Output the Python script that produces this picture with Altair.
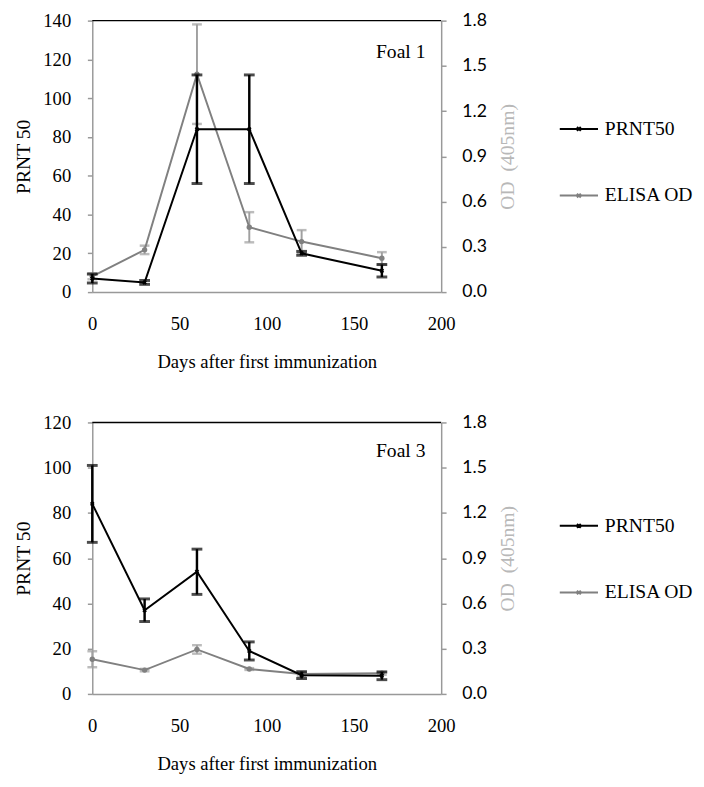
import altair as alt
import pandas as pd

# ---------------- data ----------------
days = [0, 30, 60, 90, 120, 166]
foal_names = ["Foal 1", "Foal 3"]
series_names = ["PRNT50", "ELISA OD"]

prnt_f1 = [7, 5, 84, 84, 20, 11]
prnt_err_f1 = [2.3, 1, 28, 28, 1, 3.2]
od_f1 = [0.105, 0.28, 1.445, 0.43, 0.335, 0.225]
od_err_f1 = [0.02, 0.028, 0.33, 0.10, 0.076, 0.04]

prnt_f3 = [84, 37, 54, 19, 8.3, 8]
prnt_err_f3 = [17, 5, 10, 4, 1.5, 1.7]
od_f3 = [0.23, 0.158, 0.295, 0.165, 0.132, 0.137]
od_err_f3 = [0.053, 0.008, 0.028, 0.006, 0.015, 0.01]

prnt_max = [140, 120]
prnt_ticks_f1 = [0, 20, 40, 60, 80, 100, 120, 140]
prnt_ticks_f3 = [0, 20, 40, 60, 80, 100, 120]
od_ticks = [0.0, 0.3, 0.6, 0.9, 1.2, 1.5, 1.8]
x_ticks = [0, 50, 100, 150, 200]

# ---------------- style ----------------
W, H = 356, 277
SERIF = "Liberation Serif"
SANS = "Lato"
BLACK = "#000000"
GRAY_LINE = "#808080"
GRAY_ERR = "#a0a0a0"
AXIS_GRAY = "#999999"

LEGEND_PATH = "M-1,0L1,0M-0.1,-0.1L0.1,0.1M-0.1,0.1L0.1,-0.1"


def make_panel(name, prnt, perr, od, oerr, ymax, yticks, legend_y, label_y):
    dp = pd.DataFrame({
        "day": days,
        "v": prnt,
        "lo": [a - b for a, b in zip(prnt, perr)],
        "hi": [a + b for a, b in zip(prnt, perr)],
        "series": series_names[0],
    })
    do = pd.DataFrame({
        "day": days,
        "v": od,
        "lo": [a - b for a, b in zip(od, oerr)],
        "hi": [a + b for a, b in zip(od, oerr)],
        "series": series_names[1],
    })
    dl = pd.DataFrame({"label": [name]})

    x_enc = alt.X(
        "day:Q",
        scale=alt.Scale(domain=[0, 200], nice=False),
        axis=alt.Axis(
            values=x_ticks, title="Days after first immunization",
            ticks=False, labelPadding=23, titlePadding=20, labelFlush=False,
            labelFont=SERIF, labelFontSize=19, labelColor=BLACK,
            titleFont=SERIF, titleFontSize=19, titleFontWeight="normal", titleColor=BLACK,
            domainColor=AXIS_GRAY, domainWidth=1.5,
        ),
    )

    left_axis = alt.Axis(
        orient="left", values=yticks, title="PRNT 50",
        tickSize=5, tickColor=AXIS_GRAY, tickWidth=1.5,
        domainColor=AXIS_GRAY, domainWidth=1.5,
        labelPadding=17, titlePadding=10,
        labelFont=SERIF, labelFontSize=19, labelColor=BLACK,
        titleFont=SERIF, titleFontSize=20, titleFontWeight="normal", titleColor=BLACK,
    )
    right_axis = alt.Axis(
        orient="right", values=od_ticks, format=".1f", title="OD\u00a0 (405nm)",
        tickSize=5, tickColor=AXIS_GRAY, tickWidth=1.5,
        domainColor=AXIS_GRAY, domainWidth=1.5,
        labelPadding=16, titlePadding=12, titleAngle=270, titleBaseline="top",
        labelFont=SANS, labelFontSize=18, labelColor=BLACK,
        titleFont=SERIF, titleFontSize=20, titleFontWeight="normal", titleColor="#b8b8b8",
    )

    def yl(field):
        return alt.Y(field, type="quantitative",
                     scale=alt.Scale(domain=[0, ymax], nice=False, zero=True),
                     axis=left_axis)

    def yr(field):
        return alt.Y(field, type="quantitative",
                     scale=alt.Scale(domain=[0, 1.8], nice=False, zero=True),
                     axis=right_axis)

    legend = alt.Legend(
        title=None, orient="none", legendX=476, legendY=legend_y, direction="vertical",
        symbolType=LEGEND_PATH, symbolSize=1521, symbolStrokeWidth=2,
        labelFont=SERIF, labelFontSize=20,
        labelColor=BLACK, labelOffset=6, rowPadding=37, padding=0,
    )
    color = alt.Color(
        "series:N",
        scale=alt.Scale(domain=series_names, range=[BLACK, GRAY_LINE]),
        legend=legend,
    )

    # OD (right axis) layers
    bo = alt.Chart(do)
    od_rule = bo.mark_rule(color=GRAY_ERR, strokeWidth=2).encode(x=x_enc, y=yr("lo"), y2="hi")
    od_cap_lo = bo.mark_tick(orient="horizontal", color=GRAY_ERR, size=10, thickness=2.5).encode(x=x_enc, y=yr("lo"))
    od_cap_hi = bo.mark_tick(orient="horizontal", color=GRAY_ERR, size=10, thickness=2.5).encode(x=x_enc, y=yr("hi"))
    od_line = bo.mark_line(strokeWidth=2).encode(x=x_enc, y=yr("v"), color=color)
    od_pts = bo.mark_circle(size=30, color=GRAY_LINE, opacity=1).encode(x=x_enc, y=yr("v"))
    od_layer = alt.layer(od_rule, od_cap_lo, od_cap_hi, od_line, od_pts)

    # PRNT (left axis) layers
    bp = alt.Chart(dp)
    p_rule = bp.mark_rule(color=BLACK, strokeWidth=2.5).encode(x=x_enc, y=yl("lo"), y2="hi")
    p_cap_lo = bp.mark_tick(orient="horizontal", color=BLACK, size=11, thickness=3).encode(x=x_enc, y=yl("lo"))
    p_cap_hi = bp.mark_tick(orient="horizontal", color=BLACK, size=11, thickness=3).encode(x=x_enc, y=yl("hi"))
    p_line = bp.mark_line(strokeWidth=2).encode(x=x_enc, y=yl("v"), color=color)
    p_pts = bp.mark_point(shape="cross", angle=45, size=22, filled=True, color=BLACK, opacity=1).encode(x=x_enc, y=yl("v"))
    bl = alt.Chart(dl)
    top_rule = bl.mark_rule(color=BLACK, strokeWidth=1.5).encode(
        x=alt.value(0), x2=alt.value(W), y=alt.value(0))
    label = bl.mark_text(align="right", baseline="middle", font=SERIF, fontWeight="normal",
                         fontSize=20, color=BLACK).encode(
        text="label:N", x=alt.value(340), y=alt.value(label_y))
    p_layer = alt.layer(top_rule, p_rule, p_cap_lo, p_cap_hi, p_line, p_pts, label)

    return alt.layer(od_layer, p_layer).resolve_scale(y="independent").properties(width=W, height=H)


p1 = make_panel(foal_names[0], prnt_f1, prnt_err_f1, od_f1, od_err_f1, prnt_max[0], prnt_ticks_f1, 90, 32)
p3 = make_panel(foal_names[1], prnt_f3, prnt_err_f3, od_f3, od_err_f3, prnt_max[1], prnt_ticks_f3, 85, 29)

chart = (
    alt.vconcat(p1, p3, spacing=43)
    .resolve_scale(color="independent", x="independent", y="independent")
    .properties(padding={"left": 5, "top": -4, "right": 2, "bottom": 2})
    .configure_view(stroke=None)
    .configure_axis(grid=False)
    .configure_axisLeft(labelFont=SERIF, labelFontSize=19)
    .configure_axisBottom(labelFont=SERIF, labelFontSize=19)
    .configure_axisRight(labelFont=SANS, labelFontSize=18)
)

chart.save("out.html", embed_options={"renderer": "svg", "actions": False})
